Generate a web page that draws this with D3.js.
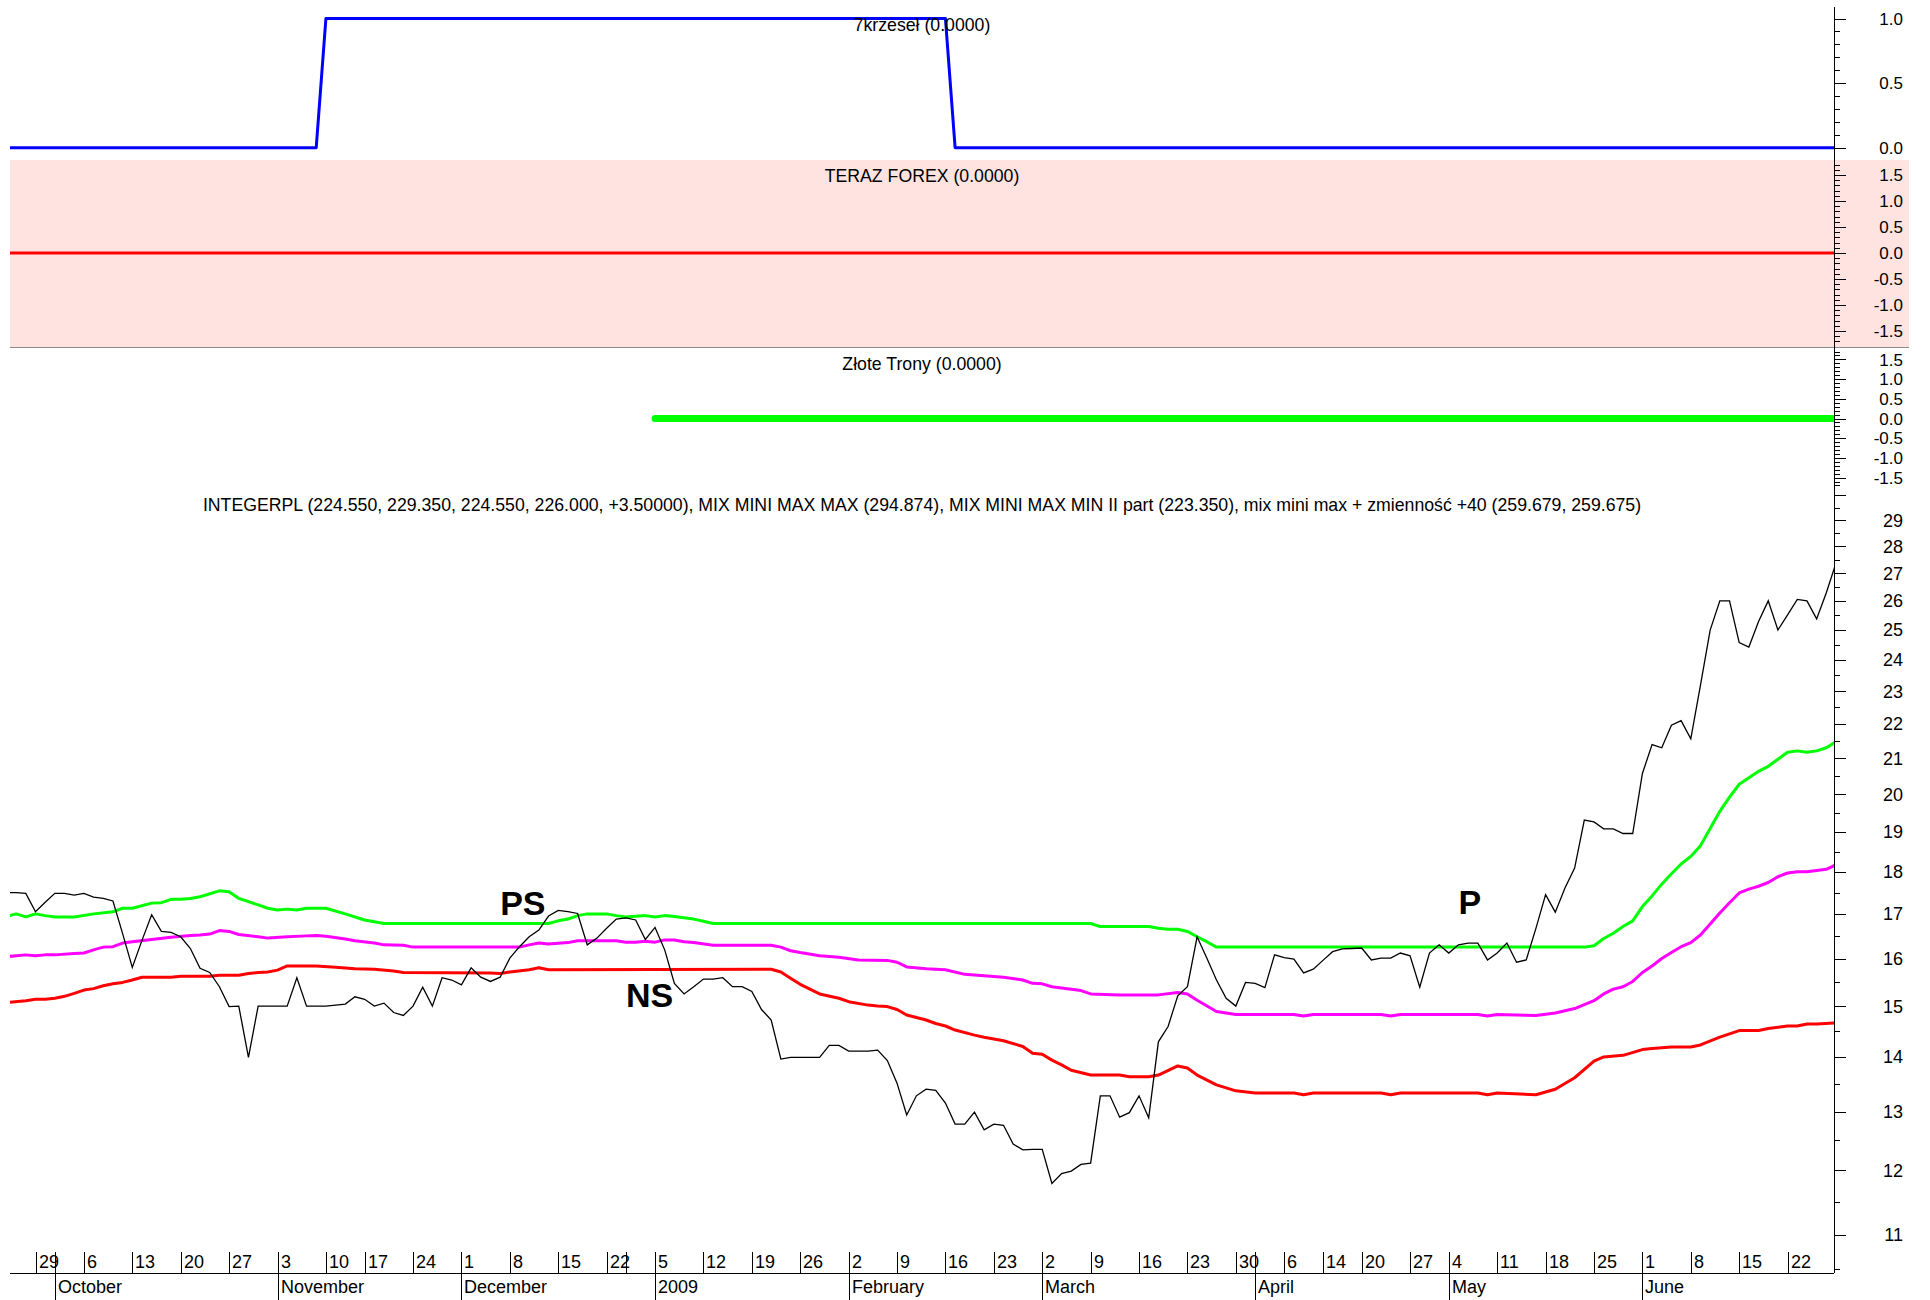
<!DOCTYPE html>
<html>
<head>
<meta charset="utf-8">
<script src="https://cdnjs.cloudflare.com/ajax/libs/d3/7.8.5/d3.min.js"></script>
<style>
body { margin: 0; background: #fff; }
svg { display: block; font-family: "Liberation Sans", Arial, sans-serif; }
</style>
</head>
<body>
<svg width="1930" height="1300"></svg>
<script>
// sessions shown on the chart
var startDate = "2008-09-24", endDate = "2009-06-29";
var holidays = ["2008-11-11", "2008-12-24", "2008-12-25", "2008-12-26",
    "2009-01-01", "2009-01-02", "2009-04-10", "2009-04-13", "2009-05-01"];

// INTEGERPL close, one value per session
var closes = [
    17.50, 17.50, 17.48, 17.05, 17.27, 17.48, 17.48, 17.44, 17.48, 17.39,
    17.36, 17.30, 16.55, 15.81, 16.40, 16.98, 16.60, 16.58, 16.48, 16.22,
    15.79, 15.70, 15.40, 14.99, 15.00, 13.99, 15.00, 15.00, 15.00, 15.00,
    15.59, 15.00, 15.00, 15.00, 15.02, 15.04, 15.19, 15.14, 15.00, 15.06,
    14.87, 14.81, 15.00, 15.39, 15.00, 15.59, 15.54, 15.44, 15.80, 15.60,
    15.51, 15.60, 16.01, 16.26, 16.48, 16.63, 16.95, 17.08, 17.05, 17.01,
    16.30, 16.45, 16.67, 16.88, 16.91, 16.86, 16.42, 16.69, 16.19, 15.47,
    15.25, 15.40, 15.56, 15.56, 15.59, 15.40, 15.40, 15.30, 14.93, 14.72,
    13.96, 13.99, 13.99, 13.99, 13.99, 14.22, 14.22, 14.11, 14.11, 14.11,
    14.13, 13.93, 13.51, 12.94, 13.28, 13.40, 13.38, 13.15, 12.78, 12.78,
    12.99, 12.68, 12.78, 12.76, 12.44, 12.34, 12.35, 12.35, 11.79, 11.95,
    11.99, 12.10, 12.12, 13.28, 13.28, 12.90, 12.98, 13.28, 12.89, 14.29,
    14.59, 15.21, 15.40, 16.48, 16.01, 15.54, 15.16, 15.00, 15.49, 15.47,
    15.38, 16.08, 16.02, 15.99, 15.69, 15.77, 15.96, 16.15, 16.21, 16.22,
    16.23, 15.97, 16.01, 16.01, 16.12, 16.06, 15.39, 16.12, 16.30, 16.12,
    16.30, 16.34, 16.34, 15.97, 16.12, 16.34, 15.92, 15.97, 16.67, 17.45,
    17.04, 17.61, 18.09, 19.31, 19.26, 19.08, 19.08, 18.96, 18.96, 20.57,
    21.39, 21.30, 21.96, 22.10, 21.56, 23.19, 24.99, 26.00, 26.00, 24.57,
    24.42, 25.28, 26.00, 24.99, 25.51, 26.05, 26.00, 25.37, 26.29, 27.37
];

// mix mini max + zmiennosc +40 (green)
var upperBand = [
    ["2008-09-24", 16.94], ["2008-09-25", 17.00], ["2008-09-26", 16.93], ["2008-09-29", 17.00],
    ["2008-09-30", 16.96], ["2008-10-01", 16.93], ["2008-10-03", 16.93], ["2008-10-07", 17.00],
    ["2008-10-09", 17.05], ["2008-10-10", 17.13], ["2008-10-13", 17.13], ["2008-10-15", 17.25],
    ["2008-10-16", 17.26], ["2008-10-17", 17.34], ["2008-10-20", 17.34], ["2008-10-21", 17.36],
    ["2008-10-22", 17.40], ["2008-10-24", 17.54], ["2008-10-27", 17.52], ["2008-10-28", 17.36],
    ["2008-10-30", 17.21], ["2008-10-31", 17.13], ["2008-11-03", 17.09], ["2008-11-04", 17.11],
    ["2008-11-05", 17.09], ["2008-11-06", 17.13], ["2008-11-10", 17.13], ["2008-11-13", 17.00],
    ["2008-11-17", 16.86], ["2008-11-19", 16.78], ["2008-12-12", 16.78], ["2008-12-15", 16.84],
    ["2008-12-16", 16.88], ["2008-12-17", 16.96], ["2008-12-18", 17.00], ["2008-12-22", 17.00],
    ["2008-12-23", 16.96], ["2008-12-29", 16.93], ["2008-12-31", 16.96], ["2009-01-05", 16.93],
    ["2009-01-06", 16.96], ["2009-01-07", 16.94], ["2009-01-09", 16.88], ["2009-01-12", 16.83],
    ["2009-01-13", 16.78], ["2009-03-09", 16.78], ["2009-03-10", 16.71], ["2009-03-17", 16.71],
    ["2009-03-18", 16.67], ["2009-03-19", 16.65], ["2009-03-20", 16.65], ["2009-03-23", 16.60],
    ["2009-03-24", 16.48], ["2009-03-25", 16.37], ["2009-03-26", 16.25], ["2009-05-22", 16.25],
    ["2009-05-25", 16.28], ["2009-05-26", 16.44], ["2009-05-27", 16.56], ["2009-05-28", 16.71],
    ["2009-05-29", 16.84], ["2009-06-01", 17.17], ["2009-06-02", 17.42], ["2009-06-03", 17.70],
    ["2009-06-04", 17.95], ["2009-06-05", 18.19], ["2009-06-08", 18.38], ["2009-06-09", 18.65],
    ["2009-06-10", 19.09], ["2009-06-11", 19.54], ["2009-06-12", 19.92], ["2009-06-15", 20.27],
    ["2009-06-16", 20.45], ["2009-06-17", 20.63], ["2009-06-18", 20.77], ["2009-06-19", 20.97],
    ["2009-06-22", 21.17], ["2009-06-23", 21.21], ["2009-06-24", 21.17], ["2009-06-25", 21.21],
    ["2009-06-26", 21.30], ["2009-06-29", 21.47]
];

// MIX MINI MAX (magenta)
var midBand = [
    ["2008-09-24", 16.04], ["2008-09-26", 16.08], ["2008-09-29", 16.06], ["2008-09-30", 16.08],
    ["2008-10-01", 16.08], ["2008-10-03", 16.11], ["2008-10-06", 16.12], ["2008-10-07", 16.19],
    ["2008-10-08", 16.25], ["2008-10-09", 16.26], ["2008-10-10", 16.34], ["2008-10-13", 16.37],
    ["2008-10-15", 16.42], ["2008-10-17", 16.47], ["2008-10-21", 16.51], ["2008-10-22", 16.52],
    ["2008-10-23", 16.54], ["2008-10-24", 16.62], ["2008-10-27", 16.60], ["2008-10-28", 16.53],
    ["2008-10-30", 16.48], ["2008-10-31", 16.45], ["2008-11-04", 16.48], ["2008-11-06", 16.50],
    ["2008-11-07", 16.51], ["2008-11-10", 16.49], ["2008-11-13", 16.43], ["2008-11-14", 16.39],
    ["2008-11-18", 16.34], ["2008-11-19", 16.30], ["2008-11-21", 16.29], ["2008-11-24", 16.25],
    ["2008-12-09", 16.25], ["2008-12-10", 16.30], ["2008-12-11", 16.34], ["2008-12-12", 16.32],
    ["2008-12-16", 16.35], ["2008-12-17", 16.39], ["2008-12-23", 16.39], ["2008-12-29", 16.36],
    ["2008-12-30", 16.36], ["2008-12-31", 16.38], ["2009-01-05", 16.36], ["2009-01-06", 16.41],
    ["2009-01-07", 16.41], ["2009-01-08", 16.37], ["2009-01-09", 16.35], ["2009-01-13", 16.29],
    ["2009-01-21", 16.29], ["2009-01-22", 16.25], ["2009-01-23", 16.17], ["2009-01-26", 16.13],
    ["2009-01-28", 16.06], ["2009-01-30", 16.03], ["2009-02-03", 15.97], ["2009-02-06", 15.96],
    ["2009-02-09", 15.92], ["2009-02-10", 15.82], ["2009-02-12", 15.78], ["2009-02-16", 15.76],
    ["2009-02-18", 15.66], ["2009-02-20", 15.63], ["2009-02-24", 15.60], ["2009-02-26", 15.54],
    ["2009-02-27", 15.47], ["2009-03-02", 15.46], ["2009-03-03", 15.40], ["2009-03-06", 15.32],
    ["2009-03-09", 15.25], ["2009-03-12", 15.23], ["2009-03-18", 15.23], ["2009-03-20", 15.28],
    ["2009-03-23", 15.25], ["2009-03-24", 15.12], ["2009-03-26", 14.89], ["2009-03-30", 14.83],
    ["2009-04-07", 14.83], ["2009-04-08", 14.80], ["2009-04-09", 14.83], ["2009-04-22", 14.83],
    ["2009-04-23", 14.80], ["2009-04-24", 14.83], ["2009-05-07", 14.83], ["2009-05-08", 14.80],
    ["2009-05-11", 14.83], ["2009-05-15", 14.81], ["2009-05-19", 14.86], ["2009-05-21", 14.95],
    ["2009-05-25", 15.11], ["2009-05-26", 15.25], ["2009-05-27", 15.35], ["2009-05-28", 15.40],
    ["2009-05-29", 15.51], ["2009-06-01", 15.70], ["2009-06-02", 15.84], ["2009-06-03", 16.00],
    ["2009-06-04", 16.13], ["2009-06-05", 16.26], ["2009-06-08", 16.35], ["2009-06-09", 16.52],
    ["2009-06-10", 16.77], ["2009-06-11", 17.02], ["2009-06-12", 17.26], ["2009-06-15", 17.49],
    ["2009-06-16", 17.58], ["2009-06-17", 17.65], ["2009-06-18", 17.74], ["2009-06-19", 17.88],
    ["2009-06-22", 17.97], ["2009-06-23", 18.00], ["2009-06-24", 18.00], ["2009-06-25", 18.03],
    ["2009-06-26", 18.06], ["2009-06-29", 18.17]
];

// MIX MINI MAX MIN II part (red)
var lowerBand = [
    ["2008-09-24", 15.07], ["2008-09-26", 15.11], ["2008-09-29", 15.14], ["2008-09-30", 15.14],
    ["2008-10-01", 15.16], ["2008-10-02", 15.20], ["2008-10-03", 15.26], ["2008-10-06", 15.33],
    ["2008-10-07", 15.36], ["2008-10-08", 15.42], ["2008-10-09", 15.46], ["2008-10-10", 15.49],
    ["2008-10-13", 15.54], ["2008-10-14", 15.60], ["2008-10-17", 15.60], ["2008-10-20", 15.62],
    ["2008-10-23", 15.62], ["2008-10-24", 15.64], ["2008-10-28", 15.64], ["2008-10-29", 15.68],
    ["2008-10-30", 15.70], ["2008-10-31", 15.71], ["2008-11-03", 15.75], ["2008-11-04", 15.84],
    ["2008-11-07", 15.84], ["2008-11-12", 15.81], ["2008-11-14", 15.78], ["2008-11-18", 15.77],
    ["2008-11-20", 15.73], ["2008-11-21", 15.70], ["2008-12-04", 15.69], ["2008-12-05", 15.68],
    ["2008-12-08", 15.71], ["2008-12-10", 15.76], ["2008-12-11", 15.80], ["2008-12-12", 15.76],
    ["2009-01-21", 15.77], ["2009-01-22", 15.71], ["2009-01-23", 15.58], ["2009-01-26", 15.45],
    ["2009-01-28", 15.25], ["2009-01-30", 15.16], ["2009-02-02", 15.09], ["2009-02-04", 15.02],
    ["2009-02-05", 15.00], ["2009-02-06", 14.99], ["2009-02-09", 14.93], ["2009-02-10", 14.82],
    ["2009-02-11", 14.77], ["2009-02-12", 14.72], ["2009-02-13", 14.65], ["2009-02-16", 14.60],
    ["2009-02-17", 14.52], ["2009-02-19", 14.42], ["2009-02-20", 14.38], ["2009-02-24", 14.31],
    ["2009-02-26", 14.20], ["2009-02-27", 14.07], ["2009-03-02", 14.05], ["2009-03-03", 13.94],
    ["2009-03-04", 13.85], ["2009-03-05", 13.75], ["2009-03-09", 13.66], ["2009-03-12", 13.66],
    ["2009-03-13", 13.63], ["2009-03-17", 13.63], ["2009-03-18", 13.66], ["2009-03-20", 13.83],
    ["2009-03-23", 13.79], ["2009-03-24", 13.66], ["2009-03-26", 13.48], ["2009-03-30", 13.37],
    ["2009-04-01", 13.33], ["2009-04-07", 13.33], ["2009-04-08", 13.30], ["2009-04-09", 13.33],
    ["2009-04-22", 13.33], ["2009-04-23", 13.30], ["2009-04-24", 13.33], ["2009-05-07", 13.33],
    ["2009-05-08", 13.30], ["2009-05-11", 13.33], ["2009-05-15", 13.30], ["2009-05-19", 13.40],
    ["2009-05-21", 13.61], ["2009-05-25", 13.92], ["2009-05-26", 14.00], ["2009-05-28", 14.03],
    ["2009-06-01", 14.14], ["2009-06-02", 14.16], ["2009-06-04", 14.19], ["2009-06-08", 14.19],
    ["2009-06-09", 14.23], ["2009-06-11", 14.38], ["2009-06-15", 14.51], ["2009-06-17", 14.51],
    ["2009-06-18", 14.55], ["2009-06-22", 14.60], ["2009-06-23", 14.60], ["2009-06-24", 14.64],
    ["2009-06-25", 14.64], ["2009-06-29", 14.66]
];

// indicator panels
var krzesla = [["2008-09-24", 0], ["2008-11-07", 0], ["2008-11-10", 1], ["2009-02-16", 1], ["2009-02-17", 0], ["2009-06-29", 0]];
var forex = [["2008-09-24", 0], ["2009-06-29", 0]];
var trony = [["2009-01-05", 0], ["2009-06-29", 0]];

var topTicks = [0, 0.5, 1];
var panelTicks = [-1.5, -1, -0.5, 0, 0.5, 1, 1.5];
var priceTicks = d3.range(11, 30);
var monthNames = ["2009", "February", "March", "April", "May", "June", "July",
    "August", "September", "October", "November", "December"];

var titles = {
    krzesla: "7krzeseł (0.0000)",
    forex: "TERAZ FOREX (0.0000)",
    trony: "Złote Trony (0.0000)",
    price: "INTEGERPL (224.550, 229.350, 224.550, 226.000, +3.50000), MIX MINI MAX MAX (294.874), MIX MINI MAX MIN II part (223.350), mix mini max + zmienność +40 (259.679, 259.675)"
};
var marks = [
    { text: "PS", date: "2008-12-05", value: 16.97 },
    { text: "NS", date: "2008-12-29", value: 14.98 },
    { text: "P", date: "2009-05-05", value: 17.0 }
];

var svg = d3.select("svg");
var left = 10, right = 1834;

var parse = d3.timeParse("%Y-%m-%d"), fmt = d3.timeFormat("%Y-%m-%d");
var days = d3.timeDay.range(parse(startDate), d3.timeDay.offset(parse(endDate), 1))
    .filter(function(d) {
        return d.getDay() !== 0 && d.getDay() !== 6 && holidays.indexOf(fmt(d)) < 0;
    });
var dayIndex = {};
days.forEach(function(d, i) { dayIndex[fmt(d)] = i; });
if (days.length !== closes.length) console.warn("sessions", days.length, "closes", closes.length);

var x = d3.scaleLinear()
    .domain([dayIndex["2008-09-29"], dayIndex["2009-06-29"]])
    .range([35.5, 1836]);

var yTop = d3.scaleLinear().domain([0, 1]).range([147.7, 18.5]);
var yForex = d3.scaleLinear().domain([-1.5, 1.5]).range([331, 175]);
var yTrony = d3.scaleLinear().domain([-1.5, 1.5]).range([477.6, 359.4]);
var yPrice = d3.scaleLog().domain([11, 29]).range([1234.6, 520.4]);

var panels = [
    { y0: 0, y1: 160, scale: yTop },
    { y0: 160, y1: 347, scale: yForex },
    { y0: 347, y1: 488, scale: yTrony },
    { y0: 488, y1: 1273, scale: yPrice }
];

var defs = svg.append("defs");
panels.forEach(function(p, i) {
    defs.append("clipPath").attr("id", "clip" + i)
        .append("rect")
        .attr("x", left).attr("y", p.y0)
        .attr("width", right - left).attr("height", p.y1 - p.y0);
});

// pink background of TERAZ FOREX panel
svg.append("rect")
    .attr("x", left).attr("y", 160)
    .attr("width", 1909 - left).attr("height", 187)
    .attr("fill", "#fee3e1");
svg.append("line")
    .attr("x1", left).attr("x2", 1909)
    .attr("y1", 347.5).attr("y2", 347.5)
    .attr("stroke", "#8c8c8c").attr("stroke-width", 1);

function keyLine(scale) {
    return d3.line()
        .x(function(d) { return x(dayIndex[d[0]]); })
        .y(function(d) { return scale(d[1]); });
}

function drawSeries(data, scale, clip, color, width, cap) {
    svg.append("path")
        .datum(data)
        .attr("clip-path", "url(#clip" + clip + ")")
        .attr("fill", "none")
        .attr("stroke", color)
        .attr("stroke-width", width)
        .attr("stroke-linejoin", "round")
        .attr("stroke-linecap", cap || "butt")
        .attr("d", keyLine(scale));
}

drawSeries(krzesla, yTop, 0, "#0000ff", 3);
drawSeries(forex, yForex, 1, "#ff0000", 3);
drawSeries(trony, yTrony, 2, "#00ff00", 7, "round");

drawSeries(lowerBand, yPrice, 3, "#ff0000", 3);
drawSeries(midBand, yPrice, 3, "#ff00ff", 3);
drawSeries(upperBand, yPrice, 3, "#00ff00", 3);

svg.append("path")
    .datum(closes)
    .attr("clip-path", "url(#clip3)")
    .attr("fill", "none")
    .attr("stroke", "#000")
    .attr("stroke-width", 1.3)
    .attr("d", d3.line()
        .x(function(d, i) { return x(i); })
        .y(function(d) { return yPrice(d); }));

// panel titles
var titleG = svg.append("g")
    .attr("font-size", 17.7)
    .attr("text-anchor", "middle")
    .attr("fill", "#000");
titleG.append("text").attr("x", 922).attr("y", 31).text(titles.krzesla);
titleG.append("text").attr("x", 922).attr("y", 182).text(titles.forex);
titleG.append("text").attr("x", 922).attr("y", 370).text(titles.trony);
titleG.append("text").attr("x", 922).attr("y", 511).text(titles.price);

svg.append("g")
    .attr("font-size", 34)
    .attr("font-weight", "bold")
    .selectAll("text")
    .data(marks)
    .enter().append("text")
    .attr("x", function(d) { return x(dayIndex[d.date]); })
    .attr("y", function(d) { return yPrice(d.value); })
    .text(function(d) { return d.text; });

// right value axis
var axisG = svg.append("g").attr("stroke", "#000").attr("stroke-width", 1);
axisG.append("line")
    .attr("x1", right + 0.5).attr("x2", right + 0.5)
    .attr("y1", 7).attr("y2", 1273);

function tickMarks(values, scale, y0, y1, len) {
    axisG.selectAll(null)
        .data(values.filter(function(v) {
            var y = scale(v);
            return y > y0 + 1 && y < y1 - 1;
        }))
        .enter().append("line")
        .attr("x1", right).attr("x2", right + len)
        .attr("y1", function(v) { return Math.round(scale(v)) + 0.5; })
        .attr("y2", function(v) { return Math.round(scale(v)) + 0.5; });
}

function tickLabels(values, scale, format, size) {
    svg.append("g")
        .attr("font-size", size)
        .attr("text-anchor", "end")
        .selectAll("text")
        .data(values)
        .enter().append("text")
        .attr("x", 1903)
        .attr("y", function(v) { return scale(v); })
        .attr("dy", "0.36em")
        .text(format);
}

var oneDecimal = function(v) { return v.toFixed(1); };

tickMarks(d3.range(0, 11).map(function(i) { return i / 10; }), yTop, 0, 160, 6);
tickMarks(topTicks, yTop, 0, 160, 12);
tickLabels(topTicks, yTop, oneDecimal, 17);

[{ s: yForex, y0: 160, y1: 347 }, { s: yTrony, y0: 347, y1: 488 }].forEach(function(p) {
    tickMarks(d3.range(-20, 21).map(function(i) { return i / 10; }), p.s, p.y0, p.y1, 6);
    tickMarks(panelTicks, p.s, p.y0, p.y1, 12);
    tickLabels(panelTicks, p.s, oneDecimal, 17);
});

tickMarks(d3.range(10.5, 31, 1), yPrice, 488, 1273, 6);
tickMarks(d3.range(11, 31), yPrice, 488, 1273, 12);
tickLabels(priceTicks, yPrice, function(v) { return v; }, 18);

// time axis
svg.append("line")
    .attr("x1", left).attr("x2", right)
    .attr("y1", 1273.5).attr("y2", 1273.5)
    .attr("stroke", "#000");

var weekTicks = [], monthTicks = [];
days.forEach(function(d, i) {
    if (i === 0) return;
    var prev = days[i - 1];
    if (d3.timeMonday.floor(d).getTime() !== d3.timeMonday.floor(prev).getTime()) weekTicks.push(i);
    if (d.getMonth() !== prev.getMonth()) monthTicks.push(i);
});
weekTicks = weekTicks.filter(function(i) { return x(i) >= left && x(i) < right; });
monthTicks = monthTicks.filter(function(i) { return x(i) >= left && x(i) < right; });

var timeG = svg.append("g").attr("font-size", 18);
timeG.selectAll("line.week")
    .data(weekTicks)
    .enter().append("line")
    .attr("x1", function(i) { return Math.round(x(i)) + 0.5; })
    .attr("x2", function(i) { return Math.round(x(i)) + 0.5; })
    .attr("y1", 1252).attr("y2", 1273)
    .attr("stroke", "#000");

var lastX = -100;
var shownWeeks = weekTicks.filter(function(i) {
    if (x(i) - lastX < 24) return false;
    lastX = x(i);
    return true;
});
timeG.selectAll("text.week")
    .data(shownWeeks)
    .enter().append("text")
    .attr("x", function(i) { return Math.round(x(i)) + 3; })
    .attr("y", 1268)
    .text(function(i) { return days[i].getDate(); });

timeG.selectAll("line.month")
    .data(monthTicks)
    .enter().append("line")
    .attr("x1", function(i) { return Math.round(x(i)) + 0.5; })
    .attr("x2", function(i) { return Math.round(x(i)) + 0.5; })
    .attr("y1", 1252).attr("y2", 1300)
    .attr("stroke", "#000");
timeG.selectAll("text.month")
    .data(monthTicks)
    .enter().append("text")
    .attr("x", function(i) { return Math.round(x(i)) + 3; })
    .attr("y", 1293)
    .text(function(i) { return monthNames[days[i].getMonth()]; });
</script>
</body>
</html>
